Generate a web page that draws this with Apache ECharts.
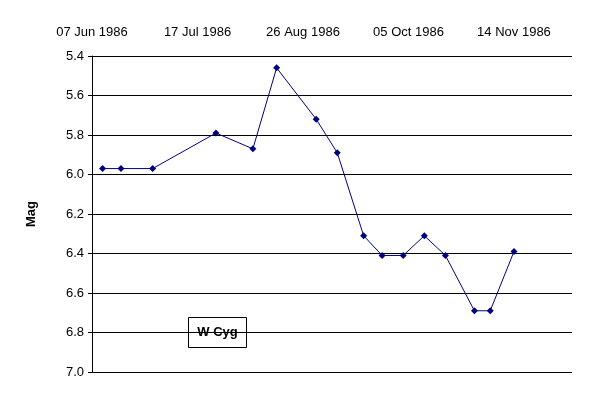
<!DOCTYPE html>
<html><head><meta charset="utf-8">
<script src="https://cdn.jsdelivr.net/npm/echarts@6/dist/echarts.min.js"></script>
<style>body{margin:0}#c{width:600px;height:400px}</style></head>
<body><div id="c"></div>
<script>
const dates=['1986-06-11','1986-06-18','1986-06-30','1986-07-24','1986-08-07','1986-08-16','1986-08-31','1986-09-08','1986-09-18','1986-09-25','1986-10-03','1986-10-11','1986-10-19','1986-10-30','1986-11-05','1986-11-14'];
const mags=[5.97,5.97,5.97,5.79,5.87,5.46,5.72,5.89,6.31,6.41,6.41,6.31,6.41,6.69,6.69,6.39];
const startDate='1986-06-07';
const DAY=86400000, t0=Date.parse(startDate);
const months=['Jan','Feb','Mar','Apr','May','Jun','Jul','Aug','Sep','Oct','Nov','Dec'];
const data=dates.map((d,i)=>[(Date.parse(d)-t0)/DAY,mags[i]]);
const ch=echarts.init(document.getElementById('c'));
ch.setOption({
 animation:false,
 textStyle:{fontFamily:'Liberation Sans'},
 grid:{left:92,right:28,top:56,bottom:28},
 xAxis:{type:'value',position:'top',min:0,max:182,interval:40,
  axisLine:{show:false},axisTick:{show:false},splitLine:{show:false},
  axisLabel:{color:'#000',fontSize:13,margin:17,showMaxLabel:false,formatter:v=>{const d=new Date(t0+v*DAY);return String(d.getUTCDate()).padStart(2,'0')+' '+months[d.getUTCMonth()]+' '+d.getUTCFullYear();}}},
 yAxis:{type:'value',inverse:true,min:5.4,max:7.0,interval:0.2,
  name:'Mag',nameLocation:'middle',nameGap:54,nameTextStyle:{fontWeight:'bold',fontSize:13,color:'#000'},
  axisLine:{show:true,lineStyle:{color:'#000'}},axisTick:{show:true,length:4,lineStyle:{color:'#000'}},
  splitLine:{lineStyle:{color:'#000'}},
  axisLabel:{color:'#000',fontSize:13,formatter:v=>v.toFixed(1)}},
 series:[{type:'line',data:data,symbol:'diamond',symbolSize:7,
  lineStyle:{color:'#000080',width:1},itemStyle:{color:'#000080'}}],
 graphic:[{type:'group',left:188,top:317,children:[
  {type:'rect',shape:{x:0,y:0,width:58,height:30},style:{fill:'#fff',stroke:'#000',lineWidth:1}},
  {type:'text',style:{x:29,y:15,text:'W Cyg',align:'center',verticalAlign:'middle',font:'bold 13px Liberation Sans',fill:'#000'}}]}]
});
</script></body></html>
